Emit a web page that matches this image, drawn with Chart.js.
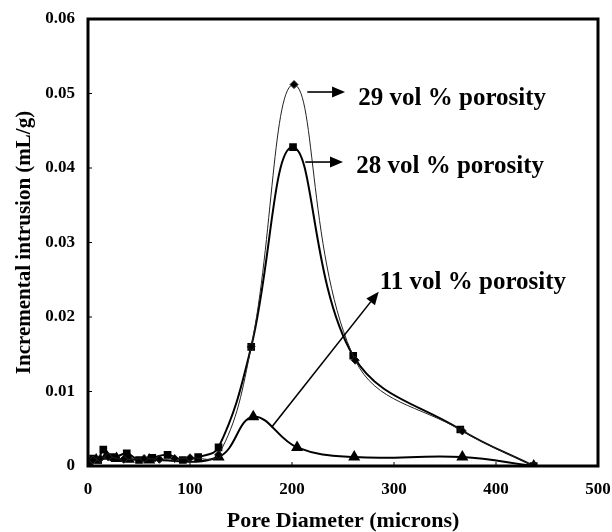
<!DOCTYPE html>
<html>
<head>
<meta charset="utf-8">
<script src="https://cdn.jsdelivr.net/npm/chart.js@4.4.1/dist/chart.umd.min.js"></script>
<style>
    body { margin: 0; background: #fff; }
    #wrap { width: 612px; height: 532px; }
</style>
</head>
<body>
<div id="wrap"><canvas id="js--chart"></canvas></div>
<script>
/* waarden */

// 29 vol % (ruitjes, dunne lijn)
const diameter29 = [0, 5, 12, 20, 35, 55, 70, 85, 100, 128, 160, 202, 262, 367, 437];
const intrusion29 = [0.0003, 0.0008, 0.001, 0.0012, 0.0009, 0.001, 0.0009, 0.001, 0.0011, 0.0015, 0.016, 0.0512, 0.0142, 0.0047, 0];

// 28 vol % (vierkantjes)
const diameter28 = [0, 5, 10, 15, 25, 38, 50, 63, 78, 93, 108, 128, 160, 201, 260, 365, 437];
const intrusion28 = [0.0005, 0.001, 0.0008, 0.0022, 0.0012, 0.0017, 0.0008, 0.0011, 0.0015, 0.0008, 0.0012, 0.0025, 0.016, 0.0428, 0.0148, 0.0049, 0];

// 11 vol % (driehoekjes)
const diameter11 = [0, 8, 18, 28, 40, 60, 128, 162, 205, 261, 367, 437];
const intrusion11 = [0.0005, 0.0008, 0.0013, 0.001, 0.0009, 0.0008, 0.0012, 0.0066, 0.0025, 0.0012, 0.0012, 0];

const xTicks = [0, 100, 200, 300, 400, 500];
const yTicks = [0, 0.01, 0.02, 0.03, 0.04, 0.05, 0.06];

// labels met pijlen, in data coordinaten
const noteTexts = ["29 vol % porosity", "28 vol % porosity", "11 vol % porosity"];
const noteX = [265, 263, 286];
const noteY = [0.0493, 0.0402, 0.0246];
const arrowFromX = [215, 213, 180];
const arrowFromY = [0.0502, 0.0408, 0.0052];
const arrowToX = [252, 250, 285];
const arrowToY = [0.0502, 0.0408, 0.0234];

const serif = "'Liberation Serif', 'DejaVu Serif', serif";

function toPoints(xs, ys) {
    return xs.map(function (x, i) {
        return { x: x, y: ys[i] };
    });
}

// kader, tick streepjes en de labels met pijlen
const extrasPlugin = {
    id: 'extras',
    afterDraw: function (chart) {
        const ctx = chart.ctx;
        const area = chart.chartArea;
        const xs = chart.scales.x;
        const ys = chart.scales.y;

        ctx.save();
        ctx.strokeStyle = '#000';
        ctx.lineWidth = 3;
        ctx.strokeRect(area.left, area.top, area.right - area.left, area.bottom - area.top);

        ctx.lineWidth = 1;
        ctx.beginPath();
        xTicks.forEach(function (t) {
            const px = xs.getPixelForValue(t);
            ctx.moveTo(px, area.bottom);
            ctx.lineTo(px, area.bottom - 4);
        });
        yTicks.forEach(function (t) {
            const py = ys.getPixelForValue(t);
            ctx.moveTo(area.left, py);
            ctx.lineTo(area.left + 4, py);
        });
        ctx.stroke();

        ctx.fillStyle = '#000';
        ctx.lineWidth = 1.6;
        for (let i = 0; i < noteTexts.length; i++) {
            const x1 = xs.getPixelForValue(arrowFromX[i]);
            const y1 = ys.getPixelForValue(arrowFromY[i]);
            const x2 = xs.getPixelForValue(arrowToX[i]);
            const y2 = ys.getPixelForValue(arrowToY[i]);
            const ang = Math.atan2(y2 - y1, x2 - x1);
            const len = 13;
            const half = 5.5;
            const bx = x2 - len * Math.cos(ang);
            const by = y2 - len * Math.sin(ang);

            ctx.beginPath();
            ctx.moveTo(x1, y1);
            ctx.lineTo(bx, by);
            ctx.stroke();

            ctx.beginPath();
            ctx.moveTo(x2, y2);
            ctx.lineTo(bx + half * Math.sin(ang), by - half * Math.cos(ang));
            ctx.lineTo(bx - half * Math.sin(ang), by + half * Math.cos(ang));
            ctx.closePath();
            ctx.fill();

            ctx.font = "bold 25px " + serif;
            ctx.textAlign = 'left';
            ctx.textBaseline = 'middle';
            ctx.fillText(noteTexts[i], xs.getPixelForValue(noteX[i]), ys.getPixelForValue(noteY[i]));
        }
        ctx.restore();
    }
};

const data = {
    datasets: [
        {
            label: "29 vol % porosity",
            data: toPoints(diameter29, intrusion29),
            showLine: true,
            borderColor: '#222',
            borderWidth: 1,
            backgroundColor: '#000',
            pointStyle: 'rectRot',
            pointRadius: 4,
            tension: 0.4
        },
        {
            label: "28 vol % porosity",
            data: toPoints(diameter28, intrusion28),
            showLine: true,
            borderColor: '#000',
            borderWidth: 2,
            backgroundColor: '#000',
            pointStyle: 'rect',
            pointRadius: 4,
            tension: 0.4
        },
        {
            label: "11 vol % porosity",
            data: toPoints(diameter11, intrusion11),
            showLine: true,
            borderColor: '#000',
            borderWidth: 2,
            backgroundColor: '#000',
            pointStyle: 'triangle',
            pointRadius: 5,
            tension: 0.4
        }
    ]
};

const config = {
    type: 'scatter',
    data: data,
    options: {
        responsive: true,
        maintainAspectRatio: false,
        animation: false,
        layout: { padding: { top: 19, right: 14, left: 0, bottom: 0 } },
        plugins: {
            legend: { display: false },
            tooltip: { enabled: false }
        },
        scales: {
            x: {
                type: 'linear',
                min: 0,
                max: 500,
                afterBuildTicks: function (scale) {
                    scale.ticks = xTicks.map(function (v) { return { value: v }; });
                },
                afterFit: function (scale) {
                    scale.height = 66;
                    scale.paddingLeft = 0;
                    scale.paddingRight = 0;
                },
                grid: { display: false, drawTicks: false },
                border: { display: false },
                ticks: {
                    color: '#000',
                    padding: 13,
                    maxRotation: 0,
                    font: { family: serif, size: 17, weight: 'bold' }
                },
                title: {
                    display: true,
                    text: 'Pore Diameter (microns)',
                    color: '#000',
                    padding: { top: 12, bottom: -3 },
                    font: { family: serif, size: 22, weight: 'bold' }
                }
            },
            y: {
                type: 'linear',
                min: 0,
                max: 0.06,
                afterBuildTicks: function (scale) {
                    scale.ticks = yTicks.map(function (v) { return { value: v }; });
                },
                afterFit: function (scale) {
                    scale.width = 88;
                    scale.paddingTop = 0;
                    scale.paddingBottom = 0;
                },
                grid: { display: false, drawTicks: false },
                border: { display: false },
                ticks: {
                    color: '#000',
                    padding: 13,
                    font: { family: serif, size: 17, weight: 'bold' },
                    callback: function (value) {
                        return value === 0 ? '0' : value.toFixed(2);
                    }
                },
                title: {
                    display: true,
                    text: 'Incremental intrusion (mL/g)',
                    color: '#000',
                    padding: { top: 12, bottom: 0 },
                    font: { family: serif, size: 21, weight: 'bold' }
                }
            }
        }
    },
    plugins: [extrasPlugin]
};

new Chart(document.getElementById("js--chart"), config);
</script>
</body>
</html>
